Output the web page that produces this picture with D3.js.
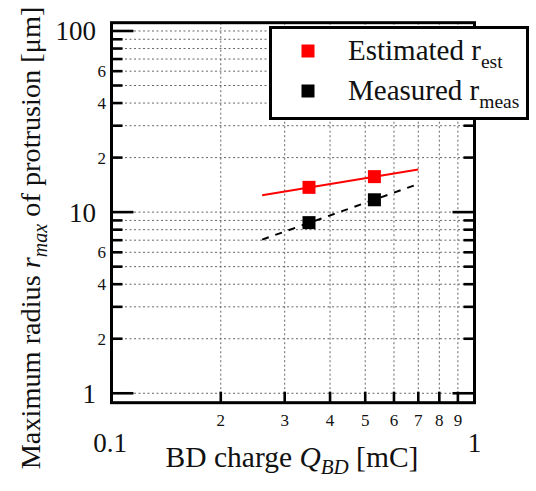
<!DOCTYPE html>
<html>
<head>
<meta charset="utf-8">
<script src="https://cdn.jsdelivr.net/npm/d3@7"></script>
<style>
  html, body { margin: 0; padding: 0; background: #fff; }
  svg { display: block; font-family: "Liberation Serif", "Times New Roman", "DejaVu Serif", serif; }
</style>
</head>
<body>
<svg id="chart" width="536" height="491"></svg>
<script>
// Breakdown charge vs. maximum protrusion radius
const charge = [0.35, 0.53];          // Q_BD [mC]
const rEst = [13.7, 15.7];            // estimated r_est [µm]
const rMeas = [8.75, 11.7];           // measured r_meas [µm]
const fitCharge = [0.26, 0.70];       // extent of the power-law fits
const fitEst = [12.4, 17.2];
const fitMeas = [7.05, 14.3];

const xMinorTicks = [0.2, 0.3, 0.4, 0.5, 0.6, 0.7, 0.8, 0.9];
const xMinorLabels = ["2", "3", "4", "5", "6", "7", "8", "9"];
const xMajorTicks = [0.1, 1];
const xMajorLabels = ["0.1", "1"];
const yMajorTicks = [1, 10, 100];
const yMajorLabels = ["1", "10", "100"];
const yMinorTicks = [2, 3, 4, 5, 6, 7, 8, 9, 20, 30, 40, 50, 60, 70, 80, 90];
const yMinorLabeled = [2, 4, 6, 20, 40, 60];
const yMinorLabels = ["2", "4", "6", "2", "4", "6"];

const svg = d3.select("#chart");
const plotL = 111.5, plotR = 474.5, plotT = 22.7, plotB = 402.7;

const x = d3.scaleLog().domain([0.1, 1]).range([plotL, plotR]);
const y = d3.scaleLog().domain([0.887, 111.1]).range([plotB, plotT]);

// grid
const grid = svg.append("g").attr("stroke", "#666").attr("stroke-width", 1)
  .attr("stroke-dasharray", "2,2.5").attr("fill", "none");
grid.selectAll(".gx").data(xMinorTicks).join("line")
  .attr("x1", d => x(d)).attr("x2", d => x(d)).attr("y1", plotT).attr("y2", plotB);
grid.selectAll(".gy").data(yMajorTicks.concat(yMinorTicks)).join("line")
  .attr("y1", d => y(d)).attr("y2", d => y(d)).attr("x1", plotL).attr("x2", plotR);

// ticks (inward, both sides)
const ticks = svg.append("g").attr("stroke", "#000").attr("stroke-width", 2.6);
ticks.selectAll(".tb").data(xMinorTicks).join("line")
  .attr("x1", d => x(d)).attr("x2", d => x(d)).attr("y1", plotB).attr("y2", plotB - 11);
const yTicks = yMajorTicks.map(v => ({v, len: 22})).concat(yMinorTicks.map(v => ({v, len: 11})));
ticks.selectAll(".tl").data(yTicks).join("line")
  .attr("x1", plotL).attr("x2", d => plotL + d.len).attr("y1", d => y(d.v)).attr("y2", d => y(d.v));
ticks.selectAll(".tr").data(yTicks).join("line")
  .attr("x1", plotR).attr("x2", d => plotR - d.len).attr("y1", d => y(d.v)).attr("y2", d => y(d.v));

// frame
svg.append("rect").attr("x", plotL).attr("y", plotT).attr("width", plotR - plotL).attr("height", plotB - plotT)
  .attr("fill", "none").attr("stroke", "#000").attr("stroke-width", 3);

// tick labels
const lab = svg.append("g").attr("fill", "#111");
lab.selectAll(".xl").data(xMinorTicks).join("text")
  .attr("x", d => x(d)).attr("y", 425.5).attr("text-anchor", "middle").attr("font-size", 17)
  .text((d, i) => xMinorLabels[i]);
lab.selectAll(".xL").data(xMajorTicks).join("text")
  .attr("x", d => x(d) - (d === 0.1 ? 1.5 : 0)).attr("y", 451.5).attr("text-anchor", "middle").attr("font-size", 27)
  .text((d, i) => xMajorLabels[i]);
lab.selectAll(".yL").data(yMajorTicks).join("text")
  .attr("x", 96).attr("y", d => y(d)).attr("dy", "0.35em").attr("text-anchor", "end").attr("font-size", 27)
  .text((d, i) => yMajorLabels[i]);
lab.selectAll(".yl").data(yMinorLabeled).join("text")
  .attr("x", 106).attr("y", d => y(d)).attr("dy", "0.35em").attr("text-anchor", "end").attr("font-size", 17)
  .text((d, i) => yMinorLabels[i]);

// fitted lines
const line = d3.line().x(d => x(d[0])).y(d => y(d[1]));
svg.append("path").datum(fitCharge.map((c, i) => [c, fitEst[i]])).attr("d", line)
  .attr("fill", "none").attr("stroke", "#ff0000").attr("stroke-width", 2);
svg.append("path").datum(fitCharge.map((c, i) => [c, fitMeas[i]])).attr("d", line)
  .attr("fill", "none").attr("stroke", "#000").attr("stroke-width", 2).attr("stroke-dasharray", "7,7");

// markers
const ms = 13;
svg.selectAll(".pe").data(charge.map((c, i) => [c, rEst[i]])).join("rect")
  .attr("x", d => x(d[0]) - ms / 2).attr("y", d => y(d[1]) - ms / 2).attr("width", ms).attr("height", ms)
  .attr("fill", "#ff0000");
svg.selectAll(".pm").data(charge.map((c, i) => [c, rMeas[i]])).join("rect")
  .attr("x", d => x(d[0]) - ms / 2).attr("y", d => y(d[1]) - ms / 2).attr("width", ms).attr("height", ms)
  .attr("fill", "#000");

// legend
const lg = svg.append("g");
lg.append("rect").attr("x", 270.5).attr("y", 27.5).attr("width", 257).attr("height", 91)
  .attr("fill", "#fff").attr("stroke", "#000").attr("stroke-width", 3);
const legendItems = [
  {color: "#ff0000", main: "Estimated r", sub: "est", y: 60},
  {color: "#000", main: "Measured r", sub: "meas", y: 100}
];
legendItems.forEach(it => {
  lg.append("rect").attr("x", 301.5).attr("y", it.y - 15.5).attr("width", 13).attr("height", 13).attr("fill", it.color);
  const t = lg.append("text").attr("x", 348).attr("y", it.y).attr("font-size", 29).attr("fill", "#111");
  t.append("tspan").text(it.main);
  t.append("tspan").attr("font-size", 19.5).attr("dy", 8).text(it.sub);
});

// axis titles
const xt = svg.append("text").attr("x", 292).attr("y", 466.5).attr("text-anchor", "middle")
  .attr("font-size", 29.5).attr("fill", "#111");
xt.append("tspan").text("BD charge ");
xt.append("tspan").attr("font-style", "italic").text("Q");
xt.append("tspan").attr("font-style", "italic").attr("font-size", 21).attr("dy", 7).text("BD");
xt.append("tspan").attr("dy", -7).text(" [mC]");

const yt = svg.append("text").attr("transform", "translate(40,238) rotate(-90)").attr("text-anchor", "middle")
  .attr("font-size", 28.3).attr("fill", "#111");
yt.append("tspan").text("Maximum radius ");
yt.append("tspan").attr("font-style", "italic").text("r");
yt.append("tspan").attr("font-style", "italic").attr("font-size", 20).attr("dy", 7).text("max");
yt.append("tspan").attr("dy", -7).text(" of protrusion [μm]");
</script>
</body>
</html>
